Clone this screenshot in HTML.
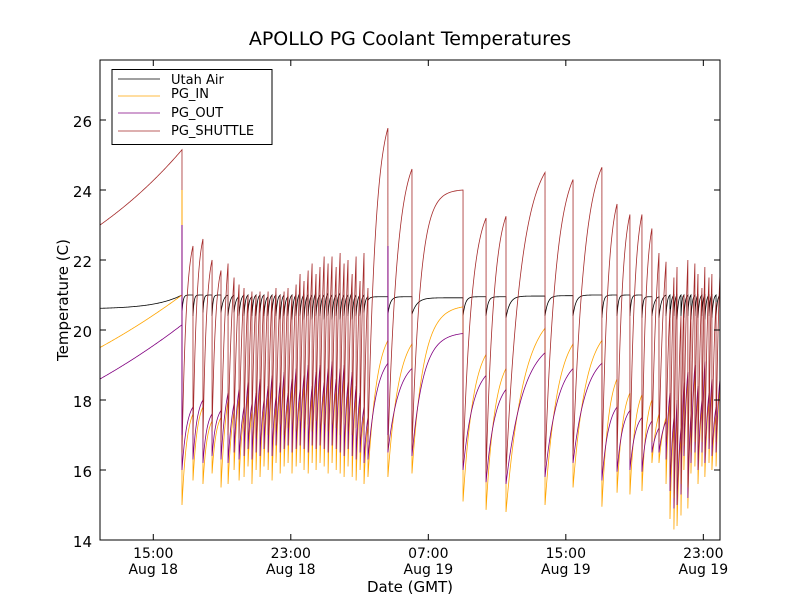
<!DOCTYPE html>
<html><head><meta charset="utf-8"><style>
body{margin:0;background:#fff;}
svg{display:block;font-family:"DejaVu Sans","Liberation Sans",sans-serif;}
</style></head><body>
<svg id="chart" width="800" height="600">
<rect x="0" y="0" width="800" height="600" fill="#fff"/>
<text x="410" y="45" text-anchor="middle" font-size="19">APOLLO PG Coolant Temperatures</text>
<g id="plot"></g>
<g id="axes"></g>
<text x="410" y="592" text-anchor="middle" font-size="15">Date (GMT)</text>
<text transform="translate(68,300) rotate(-90)" text-anchor="middle" font-size="15">Temperature (C)</text>
<g>
<rect x="112" y="69.5" width="160" height="75" fill="#fff" stroke="#000" stroke-width="1"/>
<g><line x1="118" y1="79" x2="160" y2="79" stroke="#000" stroke-width="0.8"/><text x="171" y="84" font-size="13">Utah Air</text></g>
<g><line x1="118" y1="96" x2="160" y2="96" stroke="#ffa500" stroke-width="0.8"/><text x="171" y="98" font-size="13">PG_IN</text></g>
<g><line x1="118" y1="113" x2="160" y2="113" stroke="#800080" stroke-width="0.8"/><text x="171" y="117" font-size="13">PG_OUT</text></g>
<g><line x1="118" y1="131" x2="160" y2="131" stroke="#a52a2a" stroke-width="0.8"/><text x="171" y="135" font-size="13">PG_SHUTTLE</text></g>
</g>
</svg>
<script>
// cycle end times (hours since Aug 18 00:00 GMT)
const cycleEnd = [16.67,
17.31,17.89,18.42,18.94,19.35,19.70,19.99,20.28,20.51,20.74,20.98,21.21,21.44,21.68,21.91,22.14,22.38,22.61,22.84,23.07,23.31,23.54,23.77,24.01,24.24,24.47,24.70,24.94,25.17,25.40,25.64,25.87,26.10,26.33,26.57,26.80,27.03,27.26,27.49,
28.65,30.05,33.02,34.36,35.52,37.79,39.42,41.10,41.98,42.73,43.43,44.01,44.42,44.83,
45.06,45.29,45.47,45.70,45.87,46.10,46.28,46.51,46.69,46.92,47.09,47.33,47.50,47.74,47.97];
const shuttleMin = [23.0,
16.5,17.0,16.9,17.1,16.8,17.0,17.2,16.9,17.1,17.0,17.2,16.9,17.1,17.3,17.0,17.2,17.1,17.3,17.0,17.2,17.3,17.1,17.4,17.2,17.3,17.1,17.4,17.2,17.3,17.1,17.3,17.2,17.0,17.3,17.1,17.0,17.2,16.9,17.0,
16.8,16.6,16.6,16.2,15.9,15.9,16.1,16.4,16.0,16.3,16.3,16.3,16.8,16.8,
16.8,15.8,15.2,15.3,15.6,16.7,15.5,16.5,16.8,16.3,16.8,16.5,16.9,16.7,16.8];
const shuttlePeak = [25.15,
22.4,22.6,22.0,21.7,21.9,21.5,21.3,21.2,21.0,21.1,21.0,21.1,21.0,21.1,21.0,21.2,21.0,21.1,21.2,21.0,21.3,21.6,21.4,21.7,21.9,21.6,21.8,22.1,21.9,22.1,21.8,22.2,21.9,22.0,21.6,22.1,21.4,22.2,21.2,
25.77,24.6,24.0,23.2,23.25,24.5,24.3,24.65,23.6,23.3,23.3,22.9,22.2,21.95,
20.6,21.5,21.8,20.4,21.0,22.0,20.7,21.9,21.6,21.2,21.8,21.5,21.6,20.8,21.6];
const outMin = [18.6,
16.0,16.3,16.2,16.4,16.3,16.2,16.5,16.3,16.4,16.6,16.3,16.5,16.4,16.6,16.5,16.4,16.7,16.5,16.6,16.7,16.5,16.6,16.7,16.6,16.5,16.7,16.6,16.7,16.6,16.5,16.7,16.6,16.5,16.4,16.6,16.4,16.3,16.5,16.2,
16.3,16.5,16.4,16.0,15.65,15.6,15.8,16.2,15.7,15.95,16.0,15.95,16.5,16.5,
16.3,15.4,14.9,15.0,15.3,16.4,15.2,16.2,16.5,16.0,16.5,16.2,16.6,16.4,16.5];
const outPeak = [20.15,
17.8,18.0,17.6,17.7,18.2,17.9,18.3,17.8,18.5,17.9,18.2,18.6,18.0,18.4,18.7,18.1,18.5,18.8,18.2,18.6,18.9,18.3,18.7,19.0,18.4,18.8,19.0,18.5,18.9,19.1,18.6,18.9,19.0,18.5,18.8,18.4,18.2,17.8,17.5,
19.05,18.9,19.9,18.7,18.3,19.35,18.9,19.05,17.8,17.7,17.5,17.4,17.2,17.4,
18.2,17.5,18.0,17.2,18.5,18.8,17.6,19.0,18.4,18.0,19.1,18.2,18.6,17.8,18.6];
const inMin = [19.5,
15.0,15.7,15.6,15.9,15.5,15.6,16.0,15.7,15.8,16.1,15.6,16.0,15.8,16.1,16.0,15.7,16.2,15.9,16.1,16.2,15.9,16.1,16.2,16.0,15.9,16.2,16.0,16.2,16.1,15.9,16.2,16.0,15.9,15.8,16.1,15.8,15.7,16.0,15.6,
15.8,15.8,15.9,15.1,14.86,14.8,15.0,15.5,14.95,15.35,15.3,15.4,16.2,16.2,
15.6,14.6,14.3,14.4,14.7,16.0,14.9,15.9,16.1,15.6,16.1,15.8,16.2,16.0,16.1];
const inPeak = [21.0,
17.6,17.8,17.4,17.5,18.0,17.7,18.1,17.6,18.3,17.7,18.0,18.4,17.8,18.2,18.5,17.9,18.3,18.6,18.0,18.4,18.7,18.1,18.5,18.8,18.2,18.6,18.8,18.3,18.7,18.9,18.4,18.7,18.8,18.3,18.6,18.2,18.0,17.6,17.3,
19.7,19.6,20.66,19.3,18.9,20.05,19.6,19.7,18.6,18.2,18.15,18.0,17.6,17.5,
18.0,17.3,17.8,17.0,18.3,18.6,17.4,18.8,18.2,17.8,18.9,18.0,18.4,17.6,18.4];
const airMin = [20.62,
20.5,20.4,20.5,20.4,20.5,20.4,20.5,20.4,20.4,20.5,20.4,20.4,20.5,20.4,20.4,20.5,20.4,20.3,20.4,20.4,20.3,20.4,20.4,20.3,20.4,20.3,20.4,20.4,20.3,20.4,20.3,20.4,20.3,20.4,20.4,20.3,20.4,20.4,20.5,
20.85,20.45,20.45,20.4,20.4,20.35,20.4,20.4,20.35,20.4,20.4,20.35,20.4,20.35,
20.4,20.35,20.4,20.3,20.4,20.35,20.4,20.3,20.4,20.35,20.4,20.3,20.4,20.35,20.4];
const airPeak = [21.0,
21.0,21.0,21.0,21.0,21.0,21.0,20.95,21.0,21.0,20.95,21.0,21.0,21.0,20.95,21.0,21.0,21.0,21.0,20.95,21.0,21.0,21.05,21.0,21.0,21.0,21.05,21.0,21.0,21.05,21.0,21.0,21.05,21.0,21.0,21.05,21.0,21.0,21.0,20.95,
20.95,20.95,20.92,20.95,20.95,20.97,20.98,21.0,21.0,21.0,21.0,20.95,20.95,21.0,
21.0,21.0,21.0,21.0,21.0,21.0,21.0,21.0,21.0,21.0,21.0,21.0,21.0,21.0,21.0];
const spikeTimes = [16.67, 28.65];
const spikeIn = [24.0, 19.7];
const spikeOut = [23.0, 22.4];
const xTickHours = [15, 23, 31, 39, 47];
const xTickTime = ["15:00","23:00","07:00","15:00","23:00"];
const xTickDate = ["Aug 18","Aug 18","Aug 19","Aug 19","Aug 19"];
const yTicks = [14,16,18,20,22,24,26];
const startTime = 11.9, endTime = 47.97;

const NS = "http://www.w3.org/2000/svg";
const L = 100, R = 720, T = 60, B = 540;
const yMin = 14, yMax = 14 + (B - T) / 35;
function xs(t){ return L + (t - startTime) / (endTime - startTime) * (R - L); }
function ys(v){ return B - (v - yMin) / (yMax - yMin) * (B - T); }
function mk(tag, attrs, parent){ const e = document.createElementNS(NS, tag); for (const k in attrs) e.setAttribute(k, attrs[k]); parent.appendChild(e); return e; }

const plot = document.getElementById('plot');
const axes = document.getElementById('axes');
const defs = mk('defs', {}, plot);
const cp = mk('clipPath', {id:'clip'}, defs);
mk('rect', {x:L, y:T, width:R-L, height:B-T}, cp);

function shape(u, k){ if (Math.abs(k) < 1e-6) return u; return (1 - Math.exp(-k*u)) / (1 - Math.exp(-k)); }
function series(mins, peaks, kFn){
  const pts = [];
  let t0 = startTime;
  for (let i = 0; i < cycleEnd.length; i++) {
    const t1 = cycleEnd[i];
    const span = t1 - t0;
    const n = Math.max(6, Math.round(span * 25));
    const k = kFn(i, span);
    for (let j = 0; j <= n; j++) {
      const u = j / n;
      const t = t0 + span * u;
      const v = mins[i] + (peaks[i] - mins[i]) * shape(u, k);
      pts.push(xs(t).toFixed(2) + ',' + ys(v).toFixed(2));
    }
    t0 = t1;
  }
  return pts.join(' ');
}
const tempK = (i, span) => i === 0 ? -0.3 : (span > 2.5 ? 4.5 : (span > 0.5 ? 2.2 : 1.2));
const shuttleK = (i, span) => i === 0 ? -0.5 : (span > 2.5 ? 6 : (span > 0.5 ? 2.5 : 1.2));
const airK = (i, span) => i === 0 ? -3 : (span > 0.5 ? 10 : 3);

const gLines = mk('g', {'clip-path':'url(#clip)'}, plot);
const air = mk('polyline', {points: series(airMin, airPeak, airK), fill:'none', stroke:'#000', 'stroke-width':0.8}, gLines);


const pin = mk('polyline', {points: series(inMin, inPeak, tempK), fill:'none', stroke:'#ffa500', 'stroke-width':0.8}, gLines);


const pout = mk('polyline', {points: series(outMin, outPeak, tempK), fill:'none', stroke:'#800080', 'stroke-width':0.8}, gLines);


const psh = mk('polyline', {points: series(shuttleMin, shuttlePeak, shuttleK), fill:'none', stroke:'#a52a2a', 'stroke-width':0.8}, gLines);


for (let i = 0; i < spikeTimes.length; i++) {
  const x = xs(spikeTimes[i]);
  const s1 = mk('line', {x1:x, x2:x, y1:ys(17), y2:ys(spikeIn[i]), stroke:'#ffa500', 'stroke-width':1}, gLines);
  
  
  const s2 = mk('line', {x1:x, x2:x, y1:ys(17), y2:ys(spikeOut[i]), stroke:'#800080', 'stroke-width':1}, gLines);
  
  
}

mk('rect', {x:L, y:T, width:R-L, height:B-T, fill:'none', stroke:'#000', 'stroke-width':1}, axes);
yTicks.forEach(v => {
  const y = ys(v);
  mk('line', {x1:L, x2:L+6, y1:y, y2:y, stroke:'#000'}, axes);
  mk('line', {x1:R-6, x2:R, y1:y, y2:y, stroke:'#000'}, axes);
  const tx = mk('text', {x:L-8, y:y+7, 'text-anchor':'end', 'font-size':15}, axes);
  tx.textContent = v;
  
  
});
xTickHours.forEach((h, i) => {
  const x = xs(h);
  mk('line', {x1:x, x2:x, y1:B-6, y2:B, stroke:'#000'}, axes);
  mk('line', {x1:x, x2:x, y1:T, y2:T+6, stroke:'#000'}, axes);
  const t1 = mk('text', {x:x, y:B+18, 'text-anchor':'middle', 'font-size':14}, axes);
  t1.textContent = xTickTime[i];
  
  
  const t2 = mk('text', {x:x, y:B+34, 'text-anchor':'middle', 'font-size':14}, axes);
  t2.textContent = xTickDate[i];
  
  
});
</script>
</body></html>
